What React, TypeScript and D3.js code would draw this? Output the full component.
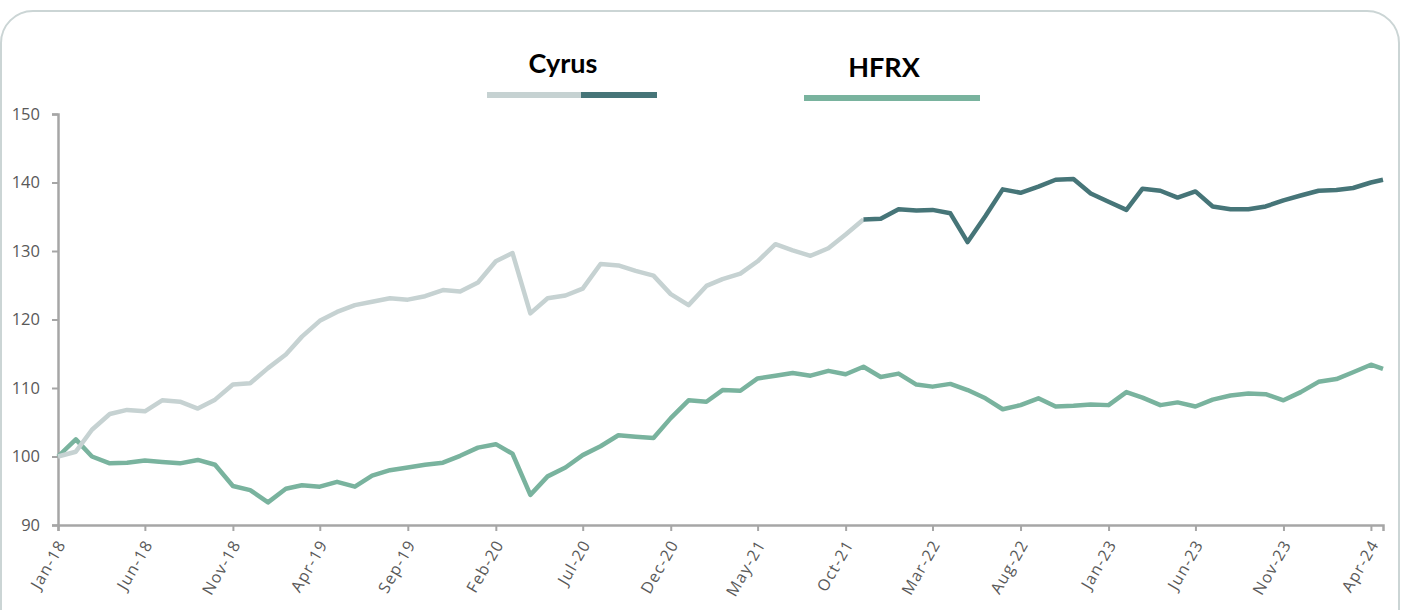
import React, { useRef, useEffect } from 'react';
import * as d3 from 'd3';

// monthly observations, Jan-18 .. Apr-24, plus a final partial-month point
const monthDates: Date[] = d3.timeMonth.range(new Date(2018, 0, 1), new Date(2024, 4, 1));
const lastDate = new Date(2024, 3, 22);
const dates: Date[] = [...monthDates, lastDate];

const tickLabels = [
  'Jan-18', 'Jun-18', 'Nov-18', 'Apr-19', 'Sep-19', 'Feb-20', 'Jul-20', 'Dec-20',
  'May-21', 'Oct-21', 'Mar-22', 'Aug-22', 'Jan-23', 'Jun-23', 'Nov-23', 'Apr-24',
];

const cyrusValues = [
  100, 100.7, 103.9, 106.2, 106.8, 106.6, 108.2, 108.0, 107.0, 108.3,
  110.5, 110.7, 112.9, 114.9, 117.5, 119.8, 121.1, 122.1, 122.6, 123.1,
  122.9, 123.4, 124.3, 124.1, 125.4, 128.5, 129.7, 120.9, 123.1, 123.5,
  124.5, 128.1, 127.9, 127.1, 126.4, 123.7, 122.1, 124.9, 125.9, 126.7,
  128.5, 131.0, 130.1, 129.3, 130.4, 132.4, 134.6, 134.7, 136.1, 135.9,
  136.0, 135.5, 131.3, 135.1, 139.0, 138.5, 139.4, 140.4, 140.5, 138.4,
  137.2, 136.0, 139.1, 138.8, 137.8, 138.7, 136.5, 136.1, 136.1, 136.5,
  137.4, 138.1, 138.8, 138.9, 139.2, 140.0, 140.4,
];

const hfrxValues = [
  100.0, 102.5, 100.0, 99.0, 99.1, 99.4, 99.2, 99.0, 99.5, 98.8,
  95.7, 95.1, 93.3, 95.3, 95.8, 95.6, 96.3, 95.6, 97.2, 98.0,
  98.4, 98.8, 99.1, 100.1, 101.3, 101.8, 100.4, 94.4, 97.1, 98.4,
  100.2, 101.5, 103.1, 102.9, 102.7, 105.6, 108.2, 108.0, 109.7, 109.6,
  111.4, 111.8, 112.2, 111.8, 112.5, 112.0, 113.1, 111.6, 112.1, 110.5,
  110.2, 110.6, 109.7, 108.5, 106.9, 107.5, 108.5, 107.3, 107.4, 107.6,
  107.5, 109.4, 108.6, 107.5, 107.9, 107.3, 108.3, 108.9, 109.2, 109.1,
  108.2, 109.4, 110.9, 111.3, 112.3, 113.4, 112.8,
];

// Cyrus line changes colour from this index onward
const cyrusSplit = 46;

const yTicks = [90, 100, 110, 120, 130, 140, 150];

const COLORS = {
  cyrusEarly: '#c6d2d2',
  cyrusLate: '#467578',
  hfrx: '#79b39e',
  axis: '#a6a6a6',
  text: '#595959',
};

const W = 1406;
const H = 610;

export default function App() {
  const axesRef = useRef<SVGGElement>(null);

  const x = d3.scaleTime().domain([dates[0], lastDate]).range([58, 1383]);
  const y = d3.scaleLinear().domain([90, 150]).range([525, 114]);

  const line = d3
    .line<[Date, number]>()
    .x((d) => x(d[0]))
    .y((d) => y(d[1]));

  const cyrusPts = dates.map((d, i) => [d, cyrusValues[i]] as [Date, number]);
  const hfrxPts = dates.map((d, i) => [d, hfrxValues[i]] as [Date, number]);

  useEffect(() => {
    if (!axesRef.current) return;
    const g = d3.select(axesRef.current);
    g.selectAll('*').remove();

    const tickDates = dates.filter((_, i) => i % 5 === 0 && i < monthDates.length);

    // x axis
    const xa = g
      .append('g')
      .attr('transform', `translate(0,${y(90)})`)
      .call(
        d3
          .axisBottom(x)
          .tickValues(tickDates)
          .tickSize(6)
          .tickFormat((_, i) => tickLabels[i])
      );
    xa.attr('font-size', null).attr('font-family', null);
    xa.select('.domain').attr('stroke', COLORS.axis).attr('stroke-width', 2.5);
    xa.selectAll('.tick line').attr('stroke', COLORS.axis).attr('stroke-width', 2);
    xa.selectAll('.tick text')
      .attr('fill', COLORS.text)
      .style('font-family', '"Open Sans", sans-serif')
      .style('font-size', '16px')
      .style('letter-spacing', '1.2px')
      .attr('text-anchor', 'end')
      .attr('dy', 0)
      .attr('y', 0)
      .attr('transform', 'translate(8,19) rotate(-60)');

    // y axis
    const ya = g
      .append('g')
      .attr('transform', `translate(${x(dates[0])},0)`)
      .call(d3.axisLeft(y).tickValues(yTicks).tickSize(6).tickPadding(12));
    ya.attr('font-size', null).attr('font-family', null);
    ya.select('.domain').attr('stroke', COLORS.axis).attr('stroke-width', 2.5);
    ya.selectAll('.tick line').attr('stroke', COLORS.axis).attr('stroke-width', 2);
    ya.selectAll('.tick text')
      .attr('fill', COLORS.text)
      .style('font-family', '"Open Sans", sans-serif')
      .style('font-size', '16.5px');
  }, []);

  return (
    <svg
      width={W}
      height={H}
      style={{ position: 'fixed', left: 0, top: 0, background: '#fff' }}
    >
      <rect x={1} y={11} width={1398} height={640} rx={32} fill="#fff" stroke="#cbd5d5" strokeWidth={2} />

      <g ref={axesRef} />

      <path
        d={line(hfrxPts) || ''}
        fill="none"
        stroke={COLORS.hfrx}
        strokeWidth={4.5}
        strokeLinejoin="round"
      />
      <path
        d={line(cyrusPts.slice(0, cyrusSplit + 1)) || ''}
        fill="none"
        stroke={COLORS.cyrusEarly}
        strokeWidth={4.5}
        strokeLinejoin="round"
      />
      <path
        d={line(cyrusPts.slice(cyrusSplit)) || ''}
        fill="none"
        stroke={COLORS.cyrusLate}
        strokeWidth={4.5}
        strokeLinejoin="round"
      />

      {/* legend */}
      <g fontFamily="Lato, sans-serif" fontWeight={700} fontSize={27} fill="#000" textAnchor="middle">
        <text x={563} y={73}>Cyrus</text>
        <text x={884} y={77}>HFRX</text>
      </g>
      <line x1={487} x2={581} y1={95} y2={95} stroke={COLORS.cyrusEarly} strokeWidth={6} />
      <line x1={581} x2={657} y1={95} y2={95} stroke={COLORS.cyrusLate} strokeWidth={6} />
      <line x1={804} x2={980} y1={98} y2={98} stroke={COLORS.hfrx} strokeWidth={6} />
    </svg>
  );
}
